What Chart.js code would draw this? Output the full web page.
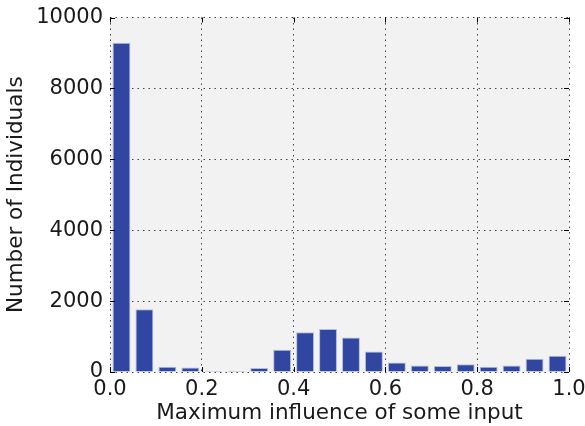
<!DOCTYPE html>
<html>
<head>
<meta charset="utf-8">
<script src="https://cdn.jsdelivr.net/npm/chart.js@4"></script>
<style>
html,body{margin:0;padding:0;background:#fff;}
#wrap{width:585px;height:426px;}
</style>
</head>
<body>
<div id="wrap"><canvas id="c" width="585" height="426"></canvas></div>
<script>
const binCenters = [0.025,0.075,0.125,0.175,0.225,0.275,0.325,0.375,0.425,0.475,0.525,0.575,0.625,0.675,0.725,0.775,0.825,0.875,0.925,0.975];
const counts = [9290,1770,150,125,30,25,115,630,1120,1215,970,575,265,180,170,220,145,180,375,460];
const xTicks = [0,0.2,0.4,0.6,0.8,1.0];
const yTicks = [0,2000,4000,6000,8000,10000];

const FONT = 'DejaVu Sans';

const bgPlugin = {
  id: 'bg',
  beforeDraw(chart) {
    const a = chart.chartArea, ctx = chart.ctx;
    ctx.save();
    ctx.fillStyle = '#f1f2f1';
    ctx.fillRect(a.left, a.top, a.right - a.left, a.bottom - a.top);
    ctx.restore();
  }
};
const tickPlugin = {
  id: 'inTicks',
  afterDraw(chart) {
    const a = chart.chartArea, ctx = chart.ctx;
    const xs = chart.scales.x, ys = chart.scales.y;
    const L = 5;
    ctx.save();
    ctx.strokeStyle = '#000';
    ctx.lineWidth = 1;
    ctx.beginPath();
    xTicks.forEach(v => {
      const px = Math.round(xs.getPixelForValue(v)) + 0.5;
      ctx.moveTo(px, a.bottom); ctx.lineTo(px, a.bottom - L);
      ctx.moveTo(px, a.top); ctx.lineTo(px, a.top + L);
    });
    yTicks.forEach(v => {
      const py = Math.round(ys.getPixelForValue(v)) + 0.5;
      ctx.moveTo(a.left, py); ctx.lineTo(a.left + L, py);
      ctx.moveTo(a.right, py); ctx.lineTo(a.right - L, py);
    });
    ctx.stroke();
    ctx.restore();
  }
};

new Chart(document.getElementById('c'), {
  type: 'bar',
  data: {
    datasets: [{
      data: binCenters.map((x, i) => ({x: x, y: counts[i]})),
      backgroundColor: '#3146a1',
      borderColor: '#b4bcdc',
      borderWidth: 1,
      barPercentage: 0.78,
      categoryPercentage: 1.0
    }]
  },
  options: {
    responsive: false,
    animation: false,
    devicePixelRatio: 1,
    layout: { padding: { left: 0, right: 16, top: 17.5, bottom: 0 } },
    plugins: { legend: { display: false }, tooltip: { enabled: false } },
    scales: {
      x: {
        type: 'linear',
        offset: false,
        min: 0, max: 1,
        afterBuildTicks: s => { s.ticks = xTicks.map(v => ({value: v})); },
        afterFit: s => { s.height = 54; s.paddingLeft = 0; s.paddingRight = 0; },
        ticks: {
          padding: 5,
          color: '#1a1a1a',
          font: { family: FONT, size: 21 },
          maxRotation: 0,
          callback: v => Number(v).toFixed(1)
        },
        grid: { offset: false, color: 'rgba(40,40,40,0.85)', lineWidth: 1, drawTicks: false, tickLength: 0 },
        border: { display: false, dash: [1.5, 4] },
        title: {
          display: true,
          text: 'Maximum influence of some input',
          color: '#1a1a1a',
          font: { family: FONT, size: 21.5 },
          padding: { top: 0, bottom: 0 }
        }
      },
      y: {
        min: 0, max: 10000,
        afterBuildTicks: s => { s.ticks = yTicks.map(v => ({value: v})); },
        afterFit: s => { s.width = 110; s.paddingTop = 0; s.paddingBottom = 0; },
        ticks: {
          padding: 7,
          color: '#1a1a1a',
          font: { family: FONT, size: 21 },
          callback: v => String(v)
        },
        grid: { color: 'rgba(40,40,40,0.85)', lineWidth: 1, drawTicks: false, tickLength: 0 },
        border: { display: false, dash: [1.5, 4] },
        title: {
          display: true,
          text: 'Number of Individuals',
          color: '#1a1a1a',
          font: { family: FONT, size: 21.5 },
          padding: { top: 4, bottom: 0 }
        }
      }
    }
  },
  plugins: [bgPlugin, tickPlugin]
});
</script>
</body>
</html>
